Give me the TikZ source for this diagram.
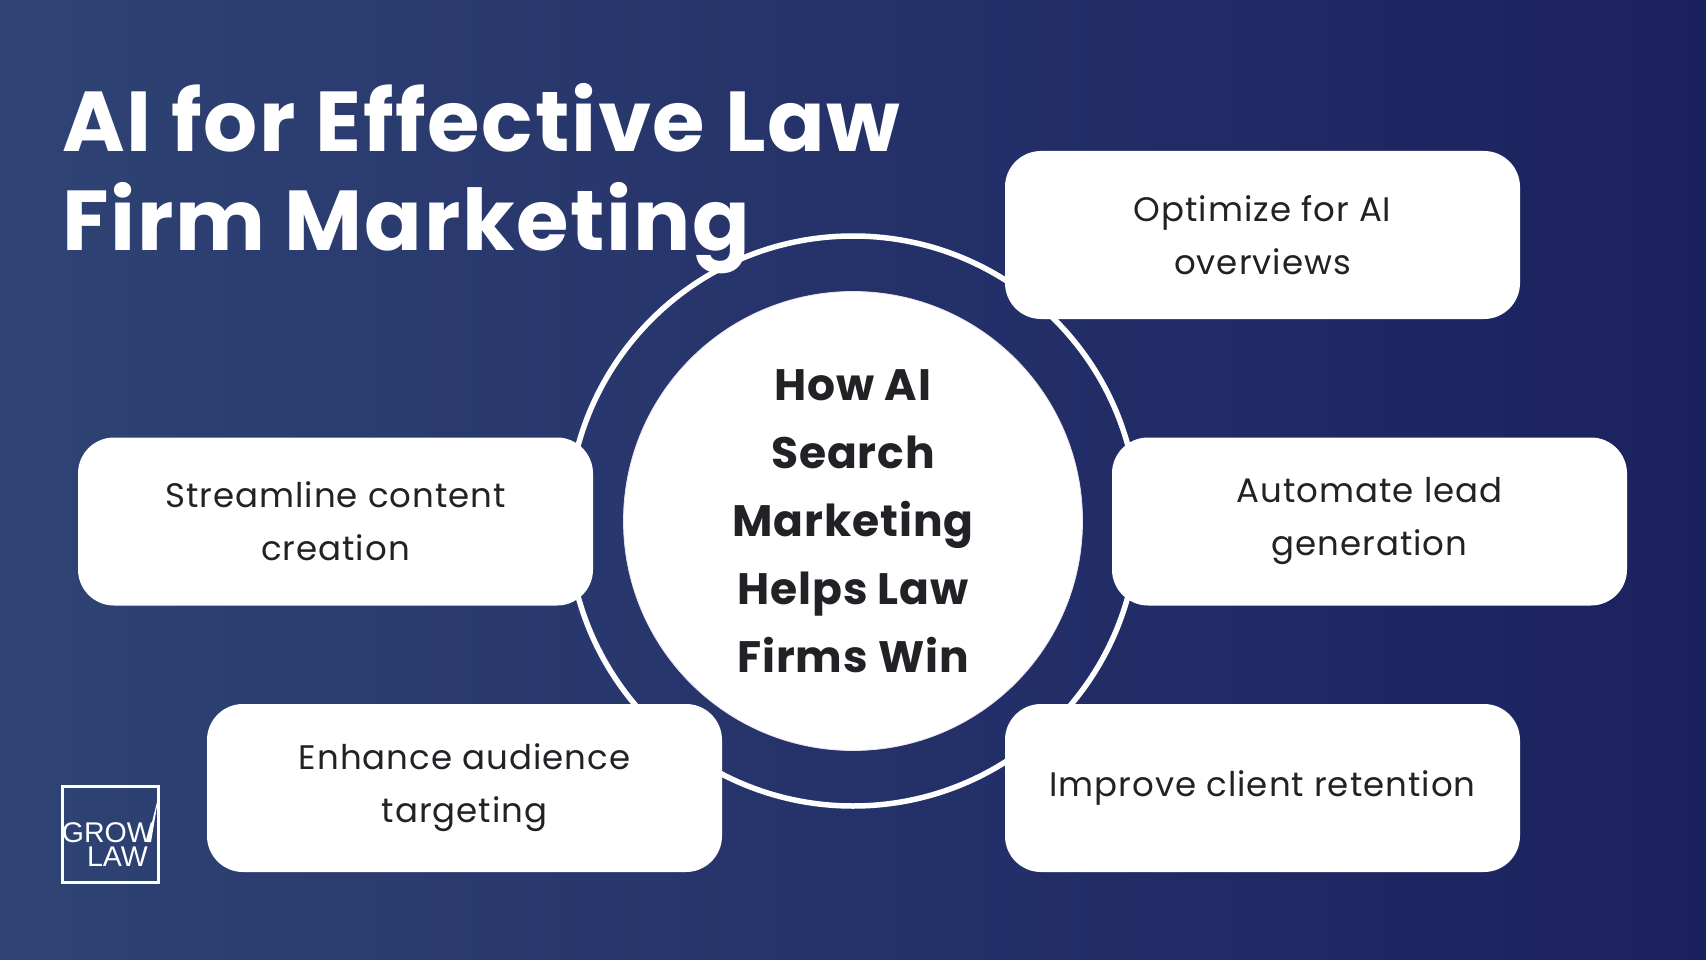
\documentclass[tikz,border=0pt]{standalone}
\usepackage{fontspec}
\setmainfont{Poppins}
\newfontfamily\logofont{Liberation Sans}
\definecolor{bgL}{RGB}{47,67,116}
\definecolor{bgM}{RGB}{39,50,107}
\definecolor{bgR}{RGB}{27,33,95}
\definecolor{inkc}{RGB}{33,33,38}
\definecolor{rimc}{RGB}{232,226,240}
\tikzset{
  x=1pt,y=-1pt,
  card/.style={fill=white,rounded corners=36pt,minimum width=515pt,minimum height=168pt,inner sep=0pt,align=center,text=inkc,font=\fontsize{34}{53}\selectfont\addfontfeatures{LetterSpace=3}},
  titletext/.style={anchor=base west,text=white,inner sep=0pt,font=\fontsize{85}{99}\bfseries\selectfont\addfontfeatures{LetterSpace=2}},
  logotext/.style={anchor=base east,text=white,inner sep=0pt,font=\logofont\fontsize{28.5}{28}\selectfont}
}
\begin{document}
\begin{tikzpicture}
\useasboundingbox (0,0) rectangle (1706,960);
\shade[left color=bgL,middle color=bgM,right color=bgR] (0,0) rectangle (1706,960);
% ring and hub
\node (ring) at (853,521) [circle,draw=white,line width=5.5pt,minimum size=570pt,inner sep=0pt] {};
\node (hub) at (853,521) [circle,fill=white,draw=rimc,line width=0.8pt,minimum size=459pt,inner sep=0pt] {};
\node (hubtext) at (853,521) [align=center,text=inkc,inner sep=0pt,font=\fontsize{44}{68}\bfseries\selectfont\addfontfeatures{LetterSpace=2}] {How AI\\Search\\Marketing\\Helps Law\\Firms Win};
% cards
\node[card] (optimize) at (1262.5,235) {Optimize for AI\\overviews};
\node[card] (automate) at (1369.5,521.5) {Automate lead\\generation};
\node[card] (streamline) at (335.5,521.5) {Streamline content\\creation};
\node[card] (enhance) at (464.5,788) {Enhance audience\\targeting};
\node[card] (improve) at (1262.5,788) {Improve client retention};
% title
\node[titletext] (title1) at (62,152) {AI for Effective Law};
\node[titletext] (title2) at (62,251) {Firm Marketing};
% logo
\node (logobox) at (110.5,834.5) [draw=white,line width=3.5pt,minimum size=96pt,inner sep=0pt] {};
\node[logotext] (grow) at (154,842) {GROW};
\node[logotext] (lawt) at (148,866) {LAW};
\fill[white] (147,842) -- (151,842) -- (158.5,797) -- (158.5,796) -- cycle;
\end{tikzpicture}
\end{document}
